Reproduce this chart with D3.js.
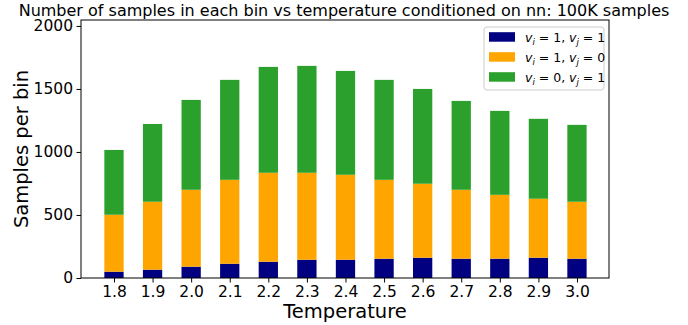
<!DOCTYPE html>
<html>
<head>
<meta charset="utf-8">
<script src="https://cdn.jsdelivr.net/npm/d3@7"></script>
<style>
  body { margin: 0; background: #fff; }
  svg { font-family: "DejaVu Sans", sans-serif; }
</style>
</head>
<body>
<div id="chart"></div>
<script>
// temperatures (x categories)
const temps = [1.8, 1.9, 2.0, 2.1, 2.2, 2.3, 2.4, 2.5, 2.6, 2.7, 2.8, 2.9, 3.0];
// stacked segments, bottom to top
const both11 = [50, 66, 90, 113, 129, 145, 145, 153, 161, 153, 153, 161, 153];
const ones10 = [452, 539, 610, 666, 706, 690, 674, 626, 587, 547, 507, 468, 452];
const ones01 = [514, 617, 713, 793, 840, 848, 824, 793, 752, 705, 666, 634, 610];
const yTicks = [0, 500, 1000, 1500, 2000];

const seriesNames = ["b11", "b10", "b01"];
const colors = { b11: "#000080", b10: "#FFA500", b01: "#2ca02c" };

const W = 688, H = 325;
const margin = { top: 20, right: 79, bottom: 47, left: 81 };
const width = W - margin.left - margin.right;
const height = H - margin.top - margin.bottom;

const rows = temps.map((t, i) => ({ t, b11: both11[i], b10: ones10[i], b01: ones01[i] }));
const stacked = d3.stack().keys(seriesNames)(rows);

const svg = d3.select("#chart").append("svg")
  .attr("width", W).attr("height", H);

const g = svg.append("g").attr("transform", `translate(${margin.left},${margin.top})`);

const x = d3.scaleLinear().domain([1.7145, 3.083]).range([0, width]);
const y = d3.scaleLinear().domain([0, 2047]).range([height, 0]);
const barW = x(1.85) - x(1.8);

// bars
stacked.forEach((layer) => {
  g.append("g")
    .selectAll("rect")
    .data(layer)
    .enter()
    .append("rect")
    .attr("x", (d) => x(d.data.t) - barW / 2)
    .attr("width", barW)
    .attr("y", (d) => y(d[1]))
    .attr("height", (d) => y(d[0]) - y(d[1]))
    .attr("fill", colors[layer.key]);
});

// axes
const xAxis = d3.axisBottom(x).tickValues(temps).tickFormat(d3.format(".1f"))
  .tickSize(4.5).tickPadding(3);
const yAxis = d3.axisLeft(y).tickValues(yTicks).tickFormat(d3.format("d"))
  .tickSize(4.5).tickPadding(3.5);

const gx = g.append("g").attr("transform", `translate(0,${height})`).call(xAxis);
const gy = g.append("g").call(yAxis);
[gx, gy].forEach((a) => {
  a.select(".domain").remove();
  a.selectAll("text").attr("font-size", 15.5).attr("fill", "#000")
    .attr("font-family", "DejaVu Sans, sans-serif");
  a.selectAll("line").attr("stroke", "#000").attr("stroke-width", 1);
});

// frame
g.append("rect")
  .attr("width", width).attr("height", height)
  .attr("fill", "none").attr("stroke", "#000").attr("stroke-width", 1);

// labels
svg.append("text")
  .attr("x", W / 2).attr("y", 15.5)
  .attr("text-anchor", "middle").attr("font-size", 16)
  .text("Number of samples in each bin vs temperature conditioned on nn: 100K samples");

svg.append("text")
  .attr("x", margin.left + width / 2).attr("y", 318)
  .attr("text-anchor", "middle").attr("font-size", 19.5)
  .text("Temperature");

svg.append("text")
  .attr("transform", `translate(28,${margin.top + height / 2}) rotate(-90)`)
  .attr("text-anchor", "middle").attr("font-size", 19.5)
  .text("Samples per bin");

// legend
const legendLabels = [
  { key: "b11", a: "1", b: "1" },
  { key: "b10", a: "1", b: "0" },
  { key: "b01", a: "0", b: "1" },
];
const lg = svg.append("g").attr("transform", "translate(484,27)");
lg.append("rect")
  .attr("width", 120).attr("height", 63).attr("rx", 3)
  .attr("fill", "#fff").attr("fill-opacity", 0.8)
  .attr("stroke", "#cccccc").attr("stroke-width", 1);

const item = lg.selectAll(".item").data(legendLabels).enter().append("g")
  .attr("transform", (d, i) => `translate(5,${10 + i * 20})`);
item.append("rect").attr("width", 26).attr("height", 9.5)
  .attr("y", -4.8).attr("fill", (d) => colors[d.key]);
const txt = item.append("text").attr("x", 36).attr("y", 4.5)
  .attr("font-size", 12.5);
txt.each(function (d) {
  const t = d3.select(this);
  t.append("tspan").attr("font-style", "italic").text("v");
  t.append("tspan").attr("font-style", "italic").attr("font-size", 8.5).attr("dy", 3).text("i");
  t.append("tspan").attr("dy", -3).text(` = ${d.a}, `);
  t.append("tspan").attr("font-style", "italic").text("v");
  t.append("tspan").attr("font-style", "italic").attr("font-size", 8.5).attr("dy", 3).text("j");
  t.append("tspan").attr("dy", -3).text(` = ${d.b}`);
});
</script>
</body>
</html>
